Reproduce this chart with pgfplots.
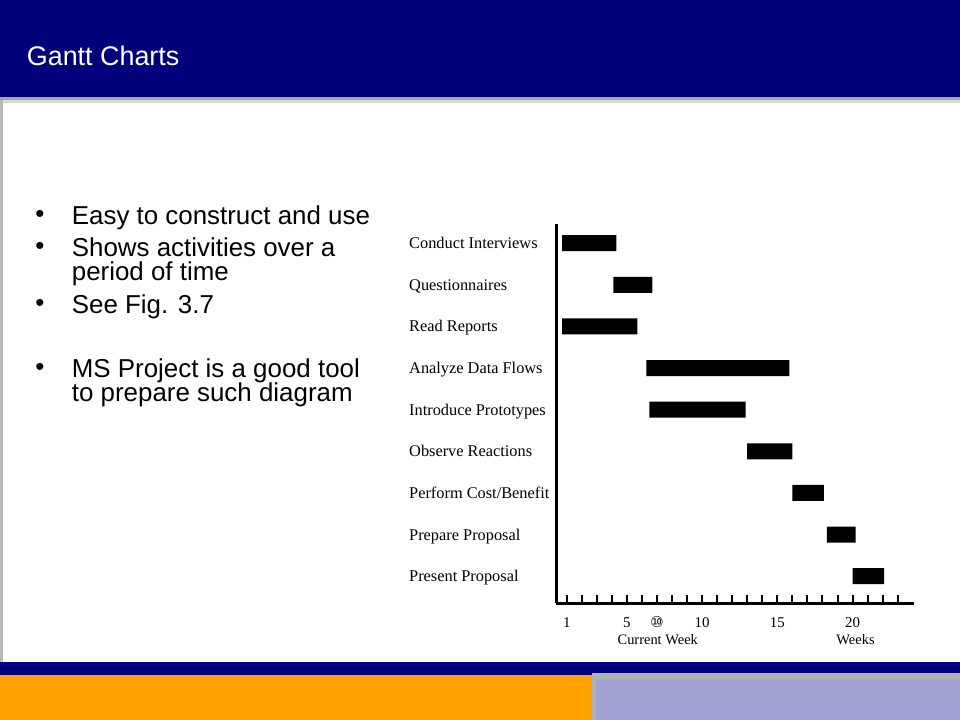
\documentclass[border=0pt]{standalone}
\usepackage{fontspec}
\setmainfont{Liberation Serif}
\newfontfamily\arial{Liberation Sans}
\newfontfamily\symfont{DejaVu Sans}
\usepackage{pgfplots}
\usepackage{pgfplotstable}
\pgfplotsset{compat=1.18}

\definecolor{slidenavy}{RGB}{0,0,122}
\definecolor{slideorange}{RGB}{255,162,0}
\definecolor{slidelav}{RGB}{163,163,214}

% task index, start week, duration in weeks
\pgfplotstableread{
task start dur
0    0.7   3.6
1    4.1   2.6
2    0.7   5.0
3    6.3   9.5
4    6.5   6.4
5    13.0  3.0
6    16.0  2.1
7    18.3  1.9
8    20.0  2.1
}\gantt

\begin{document}
\begin{tikzpicture}[x=1bp,y=1bp]
  \path[use as bounding box] (0,0) rectangle (960,720);
  \fill[white] (0,0) rectangle (960,720);
  % header band
  \fill[slidenavy] (0,623) rectangle (960,720);
  \fill[gray!70] (0,620) rectangle (960,623);
  \fill[gray!30] (0,617) rectangle (960,620);
  \fill[gray!55] (0,58) rectangle (3,620);
  \node[anchor=base west, text=white, inner sep=0,
        font=\arial\fontsize{27}{27}\selectfont] at (26.7,654) {Gantt Charts};
  % footer bands
  \fill[slidenavy] (0,45) rectangle (960,58);
  \fill[slideorange] (0,0) rectangle (594,45);
  \fill[gray!60] (592,41) rectangle (960,47);
  \fill[gray!60] (592,0) rectangle (596,47);
  \fill[slidelav] (596,0) rectangle (960,41);

  % bullet list
  \begin{scope}[every node/.style={inner sep=0, font=\arial\fontsize{26}{26}\selectfont}]
    \node[anchor=base] at (40,497) {\textbullet};
    \node[anchor=base west] at (71.7,495) {Easy to construct and use};
    \node[anchor=base] at (40,465) {\textbullet};
    \node[anchor=base west] at (71.7,463) {Shows activities over a};
    \node[anchor=base west] at (71.7,439) {period of time};
    \node[anchor=base] at (40,408) {\textbullet};
    \node[anchor=base west] at (71.7,406) {See Fig. 3.7};
    \node[anchor=base] at (40,344) {\textbullet};
    \node[anchor=base west] at (71.7,342) {MS Project is a good tool};
    \node[anchor=base west] at (71.7,318) {to prepare such diagram};
  \end{scope}

  \begin{axis}[
    at={(556.2bp,116.7bp)}, anchor=south west,
    scale only axis, width=358bp, height=379.3bp,
    xmin=0.3, xmax=24.1, ymin=-0.46, ymax=8.65,
    y dir=reverse,
    xbar stacked, bar width=16bp,
    axis x line=bottom, axis y line=left,
    axis line style={-, line width=2.6bp, black},
    clip=false,
    xtick={1,...,23},
    xticklabels={1,,,,5,,{\symfont\fontsize{15}{15}\selectfont ⑩},,,10,,,,,15,,,,,20,,,},
    tick align=inside,
    xtick style={line width=2bp, black},
    major tick length=8bp,
    xticklabel style={anchor=base, inner sep=0, yshift=-24bp,
                      font=\fontsize{15}{15}\selectfont},
    ytick={0,...,8},
    yticklabels={Conduct Interviews, Questionnaires, Read Reports,
                 Analyze Data Flows, Introduce Prototypes, Observe Reactions,
                 Perform Cost/Benefit, Prepare Proposal, Present Proposal},
    ytick style={draw=none},
    yticklabel style={anchor=base west, inner sep=0, xshift=-147.2bp,
                      yshift=-5.5bp, font=\fontsize{16.4}{16.4}\selectfont},
  ]
    \addplot[draw=none, fill=none] table[x=start, y=task] {\gantt};
    \addplot[draw=none, fill=black] table[x=dur, y=task] {\gantt};
    \node[anchor=base, inner sep=0, font=\fontsize{14.5}{14.5}\selectfont]
      at (axis cs:7.05,9.64) {Current Week};
    \node[anchor=base, inner sep=0, font=\fontsize{14.5}{14.5}\selectfont]
      at (axis cs:20.2,9.64) {Weeks};
  \end{axis}
\end{tikzpicture}
\end{document}
